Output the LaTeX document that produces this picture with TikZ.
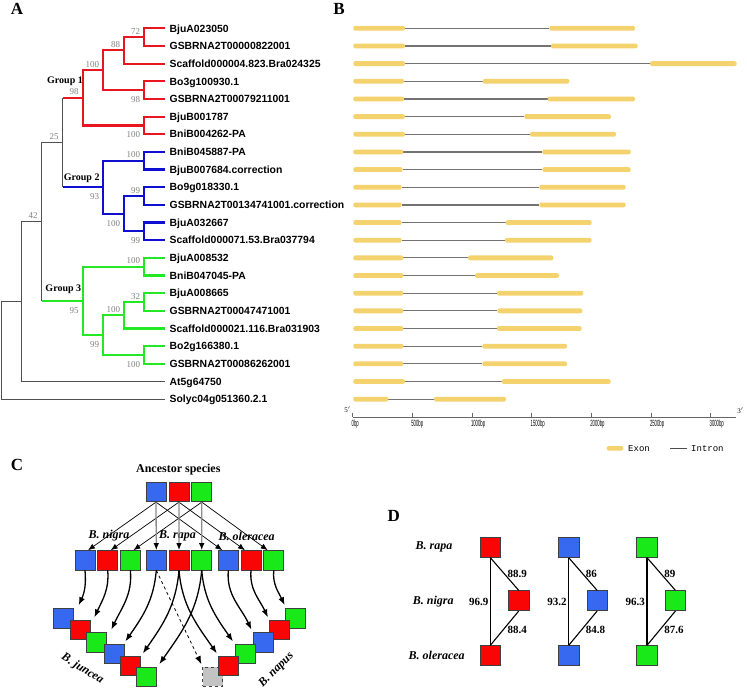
\documentclass[tikz,border=0pt]{standalone}
\usepackage{fontspec}
\setmainfont{Liberation Serif}
\setsansfont{Liberation Sans}
\setmonofont{Liberation Mono}
\usetikzlibrary{arrows.meta,positioning}

\definecolor{treered}{RGB}{232,22,30}
\definecolor{treeblue}{RGB}{15,15,210}
\definecolor{treegreen}{RGB}{35,232,35}
\definecolor{treegray}{RGB}{80,80,80}
\definecolor{exonyellow}{RGB}{244,211,110}
\definecolor{introngray}{RGB}{115,115,115}
\definecolor{boxblue}{RGB}{55,105,240}
\definecolor{boxred}{RGB}{250,5,5}
\definecolor{boxgreen}{RGB}{25,232,25}
\definecolor{boxgray}{RGB}{195,195,195}

% row position of the tree / gene rows
\newcommand{\ry}[1]{28.3+17.66*(#1)}
\newcommand{\tk}[1]{\scalebox{0.47}[1]{#1}}
% one clade: child1 -- vertical -- child2
\newcommand{\clade}[4]{\draw[#1] (#3) -- (#2 |- #3) -- (#2 |- #4) -- (#4);}

\begin{document}
\begin{tikzpicture}[x=1pt, y=-1pt,
  panel/.style={font=\fontsize{17}{17}\selectfont\bfseries, inner sep=0pt},
  leaf/.style={anchor=west, inner sep=0pt, text height=7.45pt, text depth=0pt,
    font=\sffamily\bfseries\fontsize{10.4}{11}\selectfont},
  boot/.style={anchor=east, inner sep=0pt, text=gray, text height=6pt, text depth=0pt,
    font=\fontsize{9}{9}\selectfont, xshift=-4pt},
  bootup/.style={boot, yshift=6pt},
  bootdown/.style={boot, yshift=-9.5pt},
  grouplabel/.style={font=\bfseries\fontsize{10}{10}\selectfont, inner sep=0pt},
  gbr/.style={line width=1pt, treegray},
  rbr/.style={line width=2.2pt, treered},
  bbr/.style={line width=2.2pt, treeblue},
  gnbr/.style={line width=2.2pt, treegreen},
  exon/.style={fill=exonyellow, rounded corners=2pt},
  intron/.style={line width=1.2pt, introngray},
  axis/.style={line width=0.9pt, black!60},
  ticklabel/.style={anchor=west, inner sep=0pt, font=\sffamily\fontsize{9}{9}\selectfont},
  legend/.style={anchor=west, inner sep=0pt, font=\ttfamily\fontsize{9}{9}\selectfont},
  sq/.style={draw=black!75, line width=0.7pt, minimum width=20pt, minimum height=19.5pt, inner sep=0pt},
  species/.style={font=\bfseries\itshape\fontsize{12}{12}\selectfont, inner sep=0pt},
  thinarrow/.style={-{Latex[length=7pt,width=5.5pt]}, line width=0.7pt},
  grayarrow/.style={-{Latex[length=7pt,width=5.5pt,color=black]}, line width=1.3pt, black!45},
  curvearrow/.style={-{Latex[length=8pt,width=6pt]}, line width=1.3pt},
  dline/.style={line width=1.1pt},
  ident/.style={font=\bfseries\fontsize{11}{11}\selectfont, inner sep=0pt}
]
\useasboundingbox (0,0) rectangle (747,688);

%%% A: tree
\node[panel] (pa) at (17,8.5) {A};
\foreach \gene [count=\i from 0] in {BjuA023050, GSBRNA2T00000822001,
  Scaffold000004.823.Bra024325, Bo3g100930.1, GSBRNA2T00079211001, BjuB001787,
  BniB004262-PA, BniB045887-PA, BjuB007684.correction, Bo9g018330.1,
  GSBRNA2T00134741001.correction, BjuA032667, Scaffold000071.53.Bra037794,
  BjuA008532, BniB047045-PA, BjuA008665, GSBRNA2T00047471001,
  Scaffold000021.116.Bra031903, Bo2g166380.1, GSBRNA2T00086262001,
  At5g64750, Solyc04g051360.2.1}{
  \coordinate (t\i) at (165,{\ry{\i}});
  \node[leaf] (leaf\i) at (169.5,{\ry{\i}}) {\gene};
}

\coordinate (a72) at (144.3,{\ry{0.5}});
\coordinate (a88) at (124.3,{\ry{1.25}});
\coordinate (a98) at (144.3,{\ry{3.5}});
\coordinate (a100) at (103.3,{\ry{2.375}});
\coordinate (a100b) at (144.3,{\ry{5.5}});
\coordinate (g1) at (82.7,{\ry{3.9375}});
\coordinate (b100) at (144.3,{\ry{7.5}});
\coordinate (b99) at (144.3,{\ry{9.5}});
\coordinate (b99b) at (144.3,{\ry{11.5}});
\coordinate (b100b) at (124.3,{\ry{10.5}});
\coordinate (g2) at (103.3,{\ry{9}});
\coordinate (n25) at (62.7,{\ry{6.46875}});
\coordinate (c100) at (144.3,{\ry{13.5}});
\coordinate (c32) at (144.3,{\ry{15.5}});
\coordinate (c100b) at (124.3,{\ry{16.25}});
\coordinate (c100c) at (144.3,{\ry{18.5}});
\coordinate (c99) at (103.3,{\ry{17.375}});
\coordinate (g3) at (82.7,{\ry{15.4375}});
\coordinate (n42) at (41.7,{\ry{10.953}});
\coordinate (n0) at (21.7,{\ry{15.477}});
\coordinate (root) at (1.7,{\ry{18.24}});

% group 1
\clade{rbr}{a72}{t0}{t1}
\clade{rbr}{a88}{a72}{t2}
\clade{rbr}{a98}{t3}{t4}
\clade{rbr}{a100}{a88}{a98}
\clade{rbr}{a100b}{t5}{t6}
\clade{rbr}{g1}{a100}{a100b}
% group 2
\clade{bbr}{b100}{t7}{t8}
\clade{bbr}{b99}{t9}{t10}
\clade{bbr}{b99b}{t11}{t12}
\clade{bbr}{b100b}{b99}{b99b}
\clade{bbr}{g2}{b100}{b100b}
% group 3
\clade{gnbr}{c100}{t13}{t14}
\clade{gnbr}{c32}{t15}{t16}
\clade{gnbr}{c100b}{c32}{t17}
\clade{gnbr}{c100c}{t18}{t19}
\clade{gnbr}{c99}{c100b}{c100c}
\clade{gnbr}{g3}{c100}{c99}
% backbone
\draw[gbr] (n25 |- g1) -- (n25 |- g2);
\draw[gbr] (n25) -- (n42 |- n25) -- (n42 |- g3);
\draw[gbr] (n42) -- (n0 |- n42) -- (n0 |- t20) -- (t20);
\draw[gbr] (n0) -- (root |- n0) -- (root |- t21) -- (t21);
\draw[rbr] (n25 |- g1) -- (g1);
\draw[bbr] (n25 |- g2) -- (g2);
\draw[gnbr] (n42 |- g3) -- (g3);

\node[bootup] (bs1) at (a72) {72};
\node[bootup] (bs2) at (a88) {88};
\node[bootup] (bs3) at (a100) {100};
\node[bootdown] (bs4) at (a98) {98};
\node[bootdown] (bs5) at (a100b) {100};
\node[bootup] (bs6) at (g1) {98};
\node[bootup] (bs7) at (n25) {25};
\node[bootup] (bs8) at (b100) {100};
\node[bootup] (bs9) at (b99) {99};
\node[bootdown] (bs10) at (b99b) {99};
\node[bootdown] (bs11) at (b100b) {100};
\node[bootdown] (bs12) at (g2) {93};
\node[bootup] (bs13) at (n42) {42};
\node[bootup] (bs14) at (c100) {100};
\node[bootup] (bs15) at (c32) {32};
\node[bootup] (bs16) at (c100b) {100};
\node[bootdown] (bs17) at (c100c) {100};
\node[bootdown] (bs18) at (c99) {99};
\node[bootdown] (bs19) at (g3) {95};

\node[grouplabel] (grp1) at (65,81.3) {Group 1};
\node[grouplabel] (grp2) at (81.7,178) {Group 2};
\node[grouplabel] (grp3) at (63.3,289) {Group 3};

%%% B: gene structure
\node[panel] (pb) at (339,8.5) {B};
\foreach \i/\ea/\sb/\eb in {0/405/549.3/635, 1/405/551/637.7, 2/405/650/736.7,
  3/404/482.7/569.3, 4/404/547.7/635, 5/405/524.3/611, 6/405/530/616,
  7/403.3/542.3/630.7, 8/402.7/542.3/630.7, 9/401.7/539.3/625.7,
  10/401.7/539.3/625.7, 11/401.7/505.7/591.7, 12/401.7/505/591.7,
  13/403.3/468/553.3, 14/403.3/475/559, 15/403.3/497/583.3,
  16/403.3/497.3/582.3, 17/403.3/497/581.7, 18/403.3/482.3/567,
  19/403.3/482.3/567, 20/405/501.7/610.7, 21/388.3/434/506}{
  \draw[intron] (\ea,{\ry{\i}}) -- (\sb,{\ry{\i}});
  \fill[exon] (353.3,{\ry{\i}-2.4}) rectangle (\ea,{\ry{\i}+2.4});
  \fill[exon] (\sb,{\ry{\i}-2.4}) rectangle (\eb,{\ry{\i}+2.4});
}
\draw[axis] (352.7,417.3) -- (736,417.3);
\foreach \t in {0,500,...,3000}{
  \draw[axis, line width=0.6pt] ({352.7+0.11933*\t},417.3) -- ++(0,-4);
  \node[ticklabel] at ({351.5+0.11933*\t},424) {\tk{\t bp}};
}
\node[font=\fontsize{7}{7}\selectfont, inner sep=0pt] (five) at (347.5,410) {5$'$};
\node[font=\fontsize{7}{7}\selectfont, inner sep=0pt] (three) at (740.5,410.5) {3$'$};

\fill[exon] (606.7,446) rectangle (623.3,450.6);
\node[legend] (lexon) at (628,448.3) {Exon};
\draw[intron, black!70] (670,448.3) -- (687,448.3);
\node[legend] (lintron) at (691,448.3) {Intron};

%%% C: polyploid origin
\node[panel] (pc) at (17,465) {C};
\node[font=\bfseries\fontsize{12}{12}\selectfont, inner sep=0pt] (anc) at (178.3,470) {Ancestor species};
\node[sq, fill=boxblue] (anc-b) at (156,492) {};
\node[sq, fill=boxred, right=2.2pt of anc-b] (anc-r) {};
\node[sq, fill=boxgreen, right=2.2pt of anc-r] (anc-g) {};

\node[sq, fill=boxblue] (ni-b) at (85,560.3) {};
\node[sq, fill=boxred, right=2pt of ni-b] (ni-r) {};
\node[sq, fill=boxgreen, right=2pt of ni-r] (ni-g) {};
\node[sq, fill=boxblue] (ra-b) at (156.3,560.3) {};
\node[sq, fill=boxred, right=2pt of ra-b] (ra-r) {};
\node[sq, fill=boxgreen, right=2pt of ra-r] (ra-g) {};
\node[sq, fill=boxblue] (ol-b) at (228.3,560.3) {};
\node[sq, fill=boxred, right=2pt of ol-b] (ol-r) {};
\node[sq, fill=boxgreen, right=2pt of ol-r] (ol-g) {};

\node[species] (sp-ni) at (109,536) {B. nigra};
\node[species] (sp-ra) at (177.5,536) {B. rapa};
\node[species] (sp-ol) at (246.7,536) {B. oleracea};

% B. juncea
\node[sq, fill=boxblue] (ju1) at (63.3,618.3) {};
\node[sq, fill=boxred] (ju2) at (80,630) {};
\node[sq, fill=boxgreen] (ju3) at (96,642.3) {};
\node[sq, fill=boxblue] (ju4) at (114,654) {};
\node[sq, fill=boxred] (ju5) at (130,666) {};
\node[sq, fill=boxgreen] (ju6) at (146,676.7) {};
% B. napus
\node[sq, fill=boxgray, dashed] (na6) at (212.7,676.7) {};
\node[sq, fill=boxgreen] (na1) at (295,618.3) {};
\node[sq, fill=boxred] (na2) at (279.3,630) {};
\node[sq, fill=boxblue] (na3) at (263.3,642.3) {};
\node[sq, fill=boxgreen] (na4) at (245.3,654) {};
\node[sq, fill=boxred] (na5) at (228.7,666) {};

\node[species, rotate=-32] (sp-ju) at (82.5,669) {B. juncea};
\node[species, rotate=45] (sp-na) at (276.5,670) {B. napus};

\draw[thinarrow] (anc-b.south) -- ([xshift=3pt]ni-b.north);
\draw[thinarrow] (anc-r.south) -- ([xshift=3pt]ni-r.north);
\draw[thinarrow] (anc-g.south) -- ([xshift=3pt]ni-g.north);
\draw[thinarrow] (anc-b.south) -- ([xshift=-6pt]ol-b.north);
\draw[thinarrow] (anc-r.south) -- ([xshift=-6pt]ol-r.north);
\draw[thinarrow] (anc-g.south) -- ([xshift=-6pt]ol-g.north);
\draw[grayarrow] (anc-b.south) -- (ra-b.north);
\draw[grayarrow] (anc-r.south) -- (ra-r.north);
\draw[grayarrow] (anc-g.south) -- (ra-g.north);

\draw[curvearrow] (ni-b.south) to[out=-85, in=65] ([xshift=5pt,yshift=3pt]ju1.north east);
\draw[curvearrow] (ni-r.south) to[out=-85, in=65] ([xshift=4pt,yshift=2.5pt]ju2.north east);
\draw[curvearrow] (ni-g.south) to[out=-85, in=65] ([xshift=5pt,yshift=2.5pt]ju3.north east);
\draw[curvearrow] (ra-b.south) to[out=-95, in=55] ([xshift=1pt,yshift=2.5pt]ju4.north east);
\draw[curvearrow] (ra-r.south) to[out=-95, in=55] ([xshift=2.5pt,yshift=2.5pt]ju5.north east);
\draw[curvearrow] (ra-g.south) to[out=-95, in=55] ([xshift=3pt,yshift=2.5pt]ju6.north east);
\draw[curvearrow, dashed, line width=0.8pt] (ra-b.south) -- ([xshift=-1pt,yshift=2.5pt]na6.north west);
\draw[curvearrow] (ra-r.south) to[out=-85, in=125] ([xshift=-1.5pt,yshift=2.5pt]na5.north west);
\draw[curvearrow] (ra-g.south) to[out=-85, in=125] ([xshift=-2pt,yshift=2.5pt]na4.north west);
\draw[curvearrow] (ol-b.south) to[out=-95, in=115] ([xshift=-1.5pt,yshift=2.5pt]na3.north west);
\draw[curvearrow] (ol-r.south) to[out=-95, in=115] ([xshift=-1pt,yshift=2.5pt]na2.north west);
\draw[curvearrow] (ol-g.south) to[out=-95, in=115] ([xshift=0pt,yshift=3pt]na1.north west);

%%% D: identity
\node[panel] (pd) at (393.7,515.5) {D};
\node[species] (dl-ra) at (434,546.7) {B. rapa};
\node[species] (dl-ni) at (433.3,601.7) {B. nigra};
\node[species] (dl-ol) at (436.7,655) {B. oleracea};
\foreach \c/\col/\x/\up/\lo/\ve in {r/boxred/490.3/88.9/88.4/96.9,
  b/boxblue/568.7/86/84.8/93.2, g/boxgreen/647/89/87.6/96.3}{
  \node[sq, fill=\col, minimum width=20.5pt, minimum height=20pt] (d\c-t) at (\x,547.3) {};
  \node[sq, fill=\col, minimum width=20.5pt, minimum height=20pt] (d\c-m) at ({\x+28.4},600.7) {};
  \node[sq, fill=\col, minimum width=20.5pt, minimum height=20pt] (d\c-b) at (\x,655.7) {};
  \draw[dline] (d\c-t.south) -- node[ident, left=1.5pt] {\ve} (d\c-b.north);
  \draw[dline] (d\c-t.south) -- node[ident, right=2.5pt] {\up} (d\c-m.north);
  \draw[dline] (d\c-m.south) -- node[ident, right=2.5pt, yshift=-2pt] {\lo} (d\c-b.north);
}
\end{tikzpicture}
\end{document}
